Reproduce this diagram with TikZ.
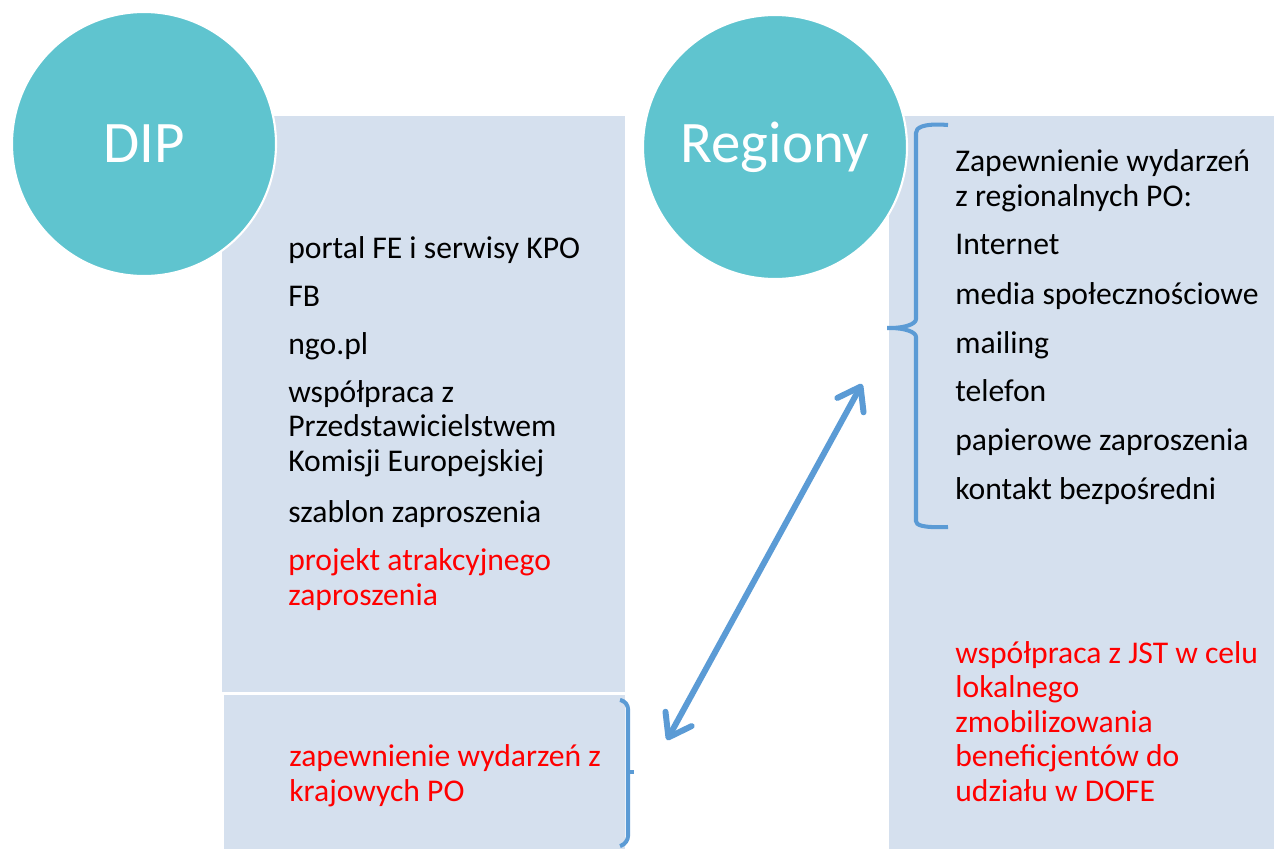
\documentclass[tikz,border=0pt]{standalone}
\usepackage{fontspec}
\setmainfont{Carlito}
\usetikzlibrary{arrows.meta}
\definecolor{circlecol}{HTML}{5FC4CF}
\definecolor{boxcol}{HTML}{D5E0EE}
\definecolor{linecol}{HTML}{5B9BD5}
\definecolor{redtext}{HTML}{FF0000}
\tikzset{
  box/.style={fill=boxcol, draw=none},
  bigcircle/.style={circle, fill=circlecol, draw=white, line width=1.2pt, minimum size=264*0.02cm, inner sep=0pt,
    text=white, font=\fontsize{33.5}{40}\selectfont},
  item/.style={anchor=base west, align=left, inner sep=0pt, font=\fontsize{18}{19.6}\selectfont},
  reditem/.style={item, text=redtext},
  brace/.style={draw=linecol, line width=2.3pt, rounded corners=4pt},
  barb/.tip={Straight Barb[length=12pt,width=17pt,round]},
}
\begin{document}
\begin{tikzpicture}[x=0.02cm,y=-0.02cm]
                \useasboundingbox (0,0) rectangle (1274,849);

                % boxes
                \fill[box] (222,116) rectangle (625,692);
                \fill[box] (224,695) rectangle (625,849);
                \fill[box] (889,116) rectangle (1274,590.5);
                \fill[box] (889,590) rectangle (1274,849);

                % circles
                \node[bigcircle] (dip) at (144,144) {DIP};
                \node[bigcircle] (regiony) at (775,147) {Regiony};

                % DIP items (multi-line nodes sit on their last baseline)
                \node[item] (portal) at (288,258) {portal FE i serwisy KPO};
                \node[item] (fb) at (288,306) {FB};
                \node[item] (ngo) at (288,354) {ngo.pl};
                \node[item] (komisja) at (288,471) {współpraca z\\Przedstawicielstwem\\Komisji Europejskiej};
                \node[item] (szablon) at (288,522) {szablon zaproszenia};
                \node[reditem] (projekt) at (288,605) {projekt atrakcyjnego\\zaproszenia};
                \node[reditem] (krajowe) at (289,801) {zapewnienie wydarzeń z\\krajowych PO};

                % Regiony items
                \node[item] (zapewnienie) at (955,206) {Zapewnienie wydarzeń\\z regionalnych PO:};
                \node[item] (internet) at (955,254) {Internet};
                \node[item] (media) at (955,304) {media społecznościowe};
                \node[item] (mailing) at (955,353) {mailing};
                \node[item] (telefon) at (955,401) {telefon};
                \node[item] (papier) at (955,450) {papierowe zaproszenia};
                \node[item] (kontakt) at (955,499) {kontakt bezpośredni};
                \node[reditem] (jst) at (955,801) {współpraca z JST w celu\\lokalnego\\zmobilizowania\\beneficjentów do\\udziału w DOFE};

                % brackets
                \coordinate (rtip) at (883,328);
                \coordinate (ltip) at (634,772);
                \draw[brace] (948,125) .. controls (922,123) and (916,128) .. (916,140) -- (916,312)
                  .. controls (916,324) and (905,328) .. (rtip)
                  .. controls (905,328) and (916,332) .. (916,344) -- (916,514)
                  .. controls (916,525) and (922,528) .. (948,527);
                \draw[brace] (620,700) -- (628,702) -- (628,843) -- (620,846);
                \draw[brace] (628,772) -- (ltip);

                % arrow
                \coordinate (aend) at (667,740);
                \coordinate (astart) at (862,384);
                \draw[linecol, line width=3.4pt, line cap=round, barb-barb] (aend) -- (astart);
\end{tikzpicture}
\end{document}
